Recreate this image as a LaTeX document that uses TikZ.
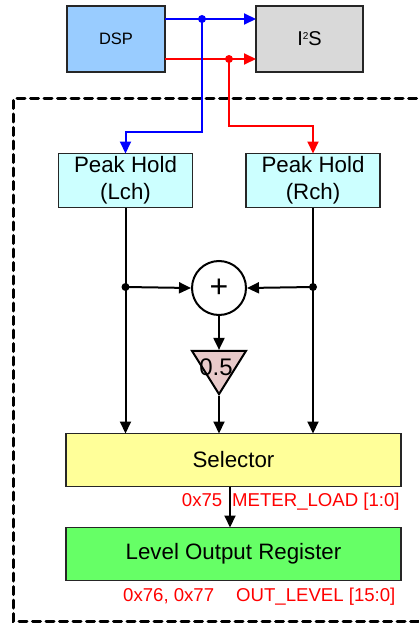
\documentclass[tikz,border=0pt]{standalone}
\usepackage{fontspec}
\setmainfont{Liberation Sans}
\usetikzlibrary{arrows.meta,shapes.geometric}
\definecolor{dspblue}{HTML}{99CCFF}
\definecolor{iisgray}{HTML}{D9D9D9}
\definecolor{phcyan}{HTML}{CCFFFF}
\definecolor{selyel}{HTML}{FFFF99}
\definecolor{regreen}{HTML}{66FF66}
\definecolor{tripink}{HTML}{E8CACA}
\definecolor{sigblue}{HTML}{0000FF}
\definecolor{sigred}{HTML}{FF0000}
\tikzset{
  blk/.style={draw=black!85, line width=1.8pt, inner sep=0pt, outer sep=0pt},
  sig/.style={line width=2pt, -{Triangle[length=12pt,width=11pt]}},
  jdot/.style={circle, fill, inner sep=0pt, minimum size=8pt},
  lbl/.style={text=sigred, font=\fontsize{18.6}{20}\selectfont, inner sep=0pt},
  bigtxt/.style={font=\fontsize{22.3}{27}\selectfont},
}
\begin{document}
\begin{tikzpicture}[x=1pt,y=-1pt]
\useasboundingbox (0,0) rectangle (419,623);
% dashed boundary
\draw[line width=3pt, dash pattern=on 8pt off 5.5pt, line cap=round] (430,99) -- (13,99) -- (13,621) -- (430,621);
% top blocks
\node[blk, fill=dspblue, minimum width=98pt, minimum height=66pt, font=\fontsize{16.5}{18}\selectfont] (dsp) at (116,39) {DSP};
\node[blk, fill=iisgray, minimum width=107pt, minimum height=66pt, font=\fontsize{20}{22}\selectfont] (iis) at (309.5,39) {I\raisebox{0.6ex}{\fontsize{10}{10}\selectfont 2}S};
% peak holds
\node[blk, fill=phcyan, minimum width=134pt, minimum height=54pt, align=center, bigtxt] (phl) at (125.5,180.5) {Peak Hold\\(Lch)};
\node[blk, fill=phcyan, minimum width=134pt, minimum height=54pt, align=center, bigtxt] (phr) at (313,180.5) {Peak Hold\\(Rch)};
% adder and gain
\node[draw, line width=2pt, circle, fill=white, minimum size=54pt, inner sep=0pt, font=\fontsize{32}{32}\selectfont] (add) at (219,288) {+};
\node[draw, line width=2pt, isosceles triangle, shape border rotate=-90, isosceles triangle apex angle=64, fill=tripink, minimum width=54pt, inner sep=0pt, anchor=apex] (gain) at (219,396) {};
\node[font=\fontsize{24}{24}\selectfont, inner sep=0pt] (gtxt) at (216,367) {0.5};
% selector and register
\node[blk, fill=selyel, minimum width=335pt, minimum height=53pt, bigtxt] (sel) at (233.5,460) {Selector};
\node[blk, fill=regreen, minimum width=335pt, minimum height=53pt, bigtxt] (reg) at (233.5,554) {Level Output Register};
% junction coordinates
\coordinate (bj) at (202,19);
\coordinate (rj) at (229,59);
\coordinate (lj) at (125.5,287);
\coordinate (rrj) at (313,287);
% DSP to I2S
\draw[sig, color=sigblue] (dsp.east |- bj) -- (iis.west |- bj);
\draw[sig, color=sigred] (dsp.east |- rj) -- (iis.west |- rj);
\node[jdot, sigblue] at (bj) {};
\node[jdot, sigred] at (rj) {};
% taps to peak holds
\draw[sig, color=sigblue] (bj) -- (202,131.5) -- (125.5,131.5) -- (phl.north);
\draw[sig, color=sigred] (rj) -- (229,126) -- (313,126) -- (phr.north);
% peak holds to selector
\draw[sig] (phl.south) -- (sel.north -| phl.south);
\draw[sig] (phr.south) -- (sel.north -| phr.south);
\node[jdot] at (lj) {};
\node[jdot] at (rrj) {};
\draw[sig] (lj) -- (add.west);
\draw[sig] (rrj) -- (add.east);
\draw[sig] (add.south) -- (gain.north);
\draw[sig] (gain.apex) -- (sel.north -| gain.apex);
% selector to register
\draw[sig] (sel.south -| 230,0) -- (reg.north -| 230,0);
% labels
\node[lbl, anchor=base east] (l1) at (222.5,506) {0x75};
\node[lbl, anchor=base west] (l2) at (232,506) {METER\_LOAD [1:0]};
\node[lbl, anchor=base west] (l3) at (123,601.5) {0x76, 0x77};
\node[lbl, anchor=base west] (l4) at (236,601.5) {OUT\_LEVEL [15:0]};
\end{tikzpicture}
\end{document}
